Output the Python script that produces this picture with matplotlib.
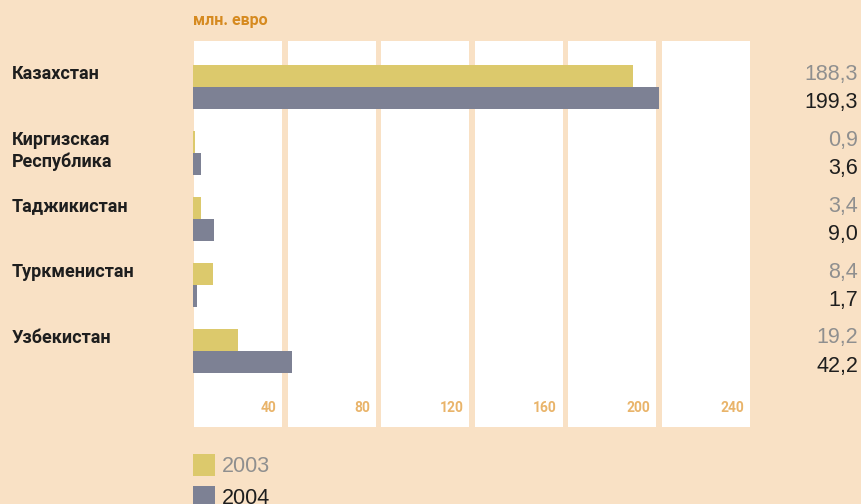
import matplotlib
matplotlib.use("Agg")
import matplotlib.pyplot as plt
from matplotlib.patches import Rectangle
import matplotlib.transforms as mtransforms

# data: EU trade, mln euro
countries = ["Казахстан", "Киргизская\nРеспублика", "Таджикистан", "Туркменистан", "Узбекистан"]
vals_2003 = [188.3, 0.9, 3.4, 8.4, 19.2]
vals_2004 = [199.3, 3.6, 9.0, 1.7, 42.2]
years = ["2003", "2004"]
ticks = [40, 80, 120, 160, 200, 240]

bg = "#f9e1c5"
c2003 = "#dcc96c"
c2004 = "#7d8194"
orange = "#d68a20"
tick_col = "#e9b46a"
bold_font = ["Roboto", "DejaVu Sans"]
plain_font = ["Liberation Sans", "DejaVu Sans"]

W, H = 861, 504
fig = plt.figure(figsize=(W / 100, H / 100), dpi=100, facecolor=bg)
ax = fig.add_axes([193 / W, (H - 427) / H, 561 / W, 386 / H])
ax.set_facecolor(bg)
ax.set_xlim(0, 240)
ax.set_ylim(5.152, -0.697)
for s in ax.spines.values():
    s.set_visible(False)
ax.set_xticks([])
ax.set_yticks([])

# white columns, one per 40 units
for t in ticks:
    left = max(0, t - 40 + 0.6)
    ax.axvspan(left, t - 1.8, color="white", lw=0, zorder=0)
    ax.text(t - 4.3, 0.049, str(t), transform=ax.get_xaxis_transform(),
            ha="right", va="center", fontsize=10, fontweight="bold",
            color=tick_col, family=bold_font)

h = 22 / 66
y = list(range(len(countries)))
ax.barh([i - h / 2 for i in y], vals_2003, height=h, color=c2003, zorder=2)
ax.barh([i + h / 2 for i in y], vals_2004, height=h, color=c2004, zorder=2)

# category names on the left, values on the right
tr = mtransforms.blended_transform_factory(fig.transFigure, ax.transData)
for i, name in enumerate(countries):
    parts = name.split("\n")
    for j, p in enumerate(parts):
        ax.text(12 / W, i - h / 2 + j * h - 0.03, p, transform=tr, ha="left", va="center",
                fontsize=13, fontweight="bold", color="#1e1e1e", family=bold_font)
    ax.text(858 / W, i - h / 2 - 0.03, f"{vals_2003[i]:.1f}".replace(".", ","),
            transform=tr, ha="right", va="center", fontsize=15.5, color="#8f8f8f",
            family=plain_font)
    ax.text(858 / W, i + h / 2 + 0.075, f"{vals_2004[i]:.1f}".replace(".", ","),
            transform=tr, ha="right", va="center", fontsize=15.5, color="#1e1e1e",
            family=plain_font)

fig.text(193 / W, 1 - 20 / H, "млн. евро", ha="left", va="center", fontsize=11.5,
         fontweight="bold", color=orange, family=bold_font)

# legend
for k, (yr, col, tcol) in enumerate(zip(years, [c2003, c2004], ["#8f8f8f", "#1e1e1e"])):
    top = 454 + k * 32
    fig.patches.append(Rectangle((193 / W, 1 - (top + 22) / H), 22 / W, 22 / H,
                                 transform=fig.transFigure, color=col, lw=0))
    fig.text(222 / W, 1 - (top + 13) / H, yr, ha="left", va="center", fontsize=15.5,
             color=tcol, family=plain_font)

fig.savefig("out.png", dpi=100, facecolor=bg)
